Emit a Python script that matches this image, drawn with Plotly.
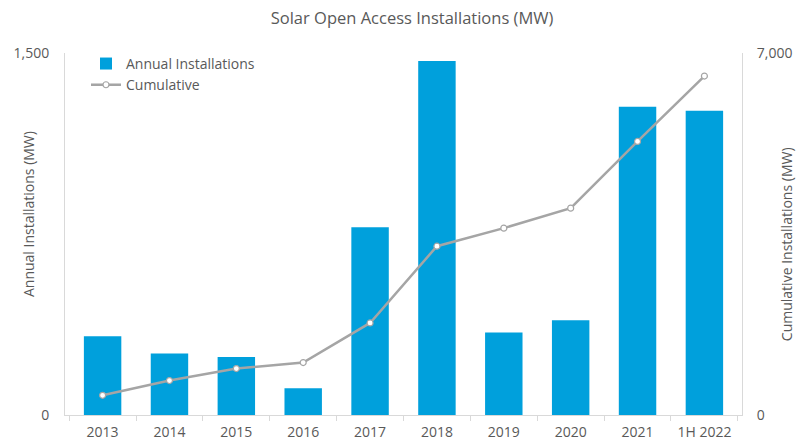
import plotly.graph_objects as go

categories = ["2013", "2014", "2015", "2016", "2017", "2018", "2019", "2020", "2021", "1H 2022"]
annual = [326, 255, 240, 111, 778, 1467, 342, 393, 1277, 1261]
cumulative = [381, 666, 898, 1014, 1780, 3264, 3613, 4000, 5290, 6554]

FONT = "Open Sans"
TXT = "#595959"
AX = "#D9D9D9"

fig = go.Figure()
fig.add_trace(go.Bar(
    x=categories, y=annual, name="Annual Installations",
    marker=dict(color="#00A0DC", line=dict(width=0)),
))
fig.add_trace(go.Scatter(
    x=categories, y=cumulative, name="Cumulative", yaxis="y2",
    mode="lines+markers",
    line=dict(color="#A5A5A5", width=2.5),
    marker=dict(symbol="circle", size=6, color="white", line=dict(color="#A5A5A5", width=1.2)),
))

fig.update_layout(
    width=797, height=442,
    margin=dict(l=65, r=55, t=53, b=27, autoexpand=False),
    paper_bgcolor="white", plot_bgcolor="white",
    font=dict(family=FONT, color=TXT, size=14),
    title=dict(text="Solar Open Access Installations (MW)", x=0.517, xanchor="center",
               y=0.958, yanchor="middle", font=dict(size=16.5, color=TXT, family=FONT)),
    bargap=0.44,
    showlegend=True,
    legend=dict(x=0.031, y=1.014, xanchor="left", yanchor="top", bgcolor="rgba(0,0,0,0)",
                font=dict(size=14, color=TXT), tracegroupgap=0, itemwidth=30),
    xaxis=dict(type="category", showgrid=False, showline=True, linecolor=AX, linewidth=1,
               ticks="outside", tickson="boundaries", ticklen=5, tickcolor=AX,
               ticklabelstandoff=4,
               automargin=False, tickfont=dict(size=14, color=TXT)),
    yaxis=dict(range=[0, 1500], tickvals=[0, 1500], ticktext=["0", "1,500"],
               showgrid=False, zeroline=False, showline=True, linecolor=AX, linewidth=1,
               ticklabelstandoff=12,
               automargin=False, tickfont=dict(size=14, color=TXT)),
    yaxis2=dict(range=[0, 7000], tickvals=[0, 7000], ticktext=["0", "7,000"],
                overlaying="y", side="right", automargin=False,
                showgrid=False, zeroline=False, showline=True, linecolor=AX, linewidth=1,
                ticklabelstandoff=11,
                tickfont=dict(size=14, color=TXT)),
    annotations=[
        dict(text="Annual Installations (MW)", xref="paper", yref="paper",
             x=-0.0547, y=0.555, xanchor="center", yanchor="middle", textangle=-90,
             showarrow=False, font=dict(size=14, color=TXT)),
        dict(text="Cumulative Installations (MW)", xref="paper", yref="paper",
             x=1.065, y=0.472, xanchor="center", yanchor="middle", textangle=-90,
             showarrow=False, font=dict(size=14, color=TXT)),
    ],
)

fig.write_html("out.html", config={"displayModeBar": False},
               post_script="document.body.style.margin='0';document.body.style.overflow='hidden';")
